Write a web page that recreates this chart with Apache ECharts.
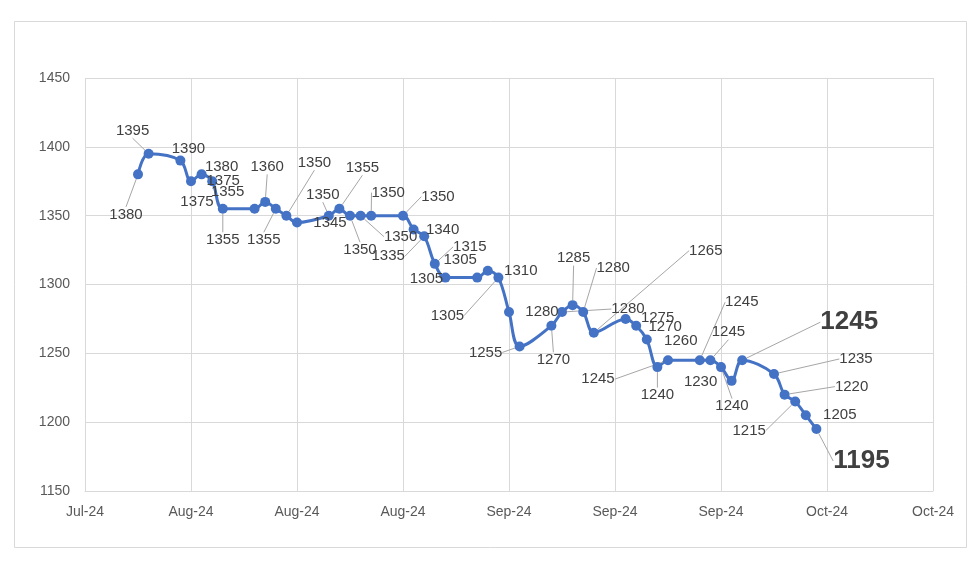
<!DOCTYPE html>
<html><head><meta charset="utf-8">
<script src="https://cdn.jsdelivr.net/npm/echarts/dist/echarts.min.js"></script>
<style>html,body{margin:0;padding:0;background:#fff}#c{width:980px;height:562px}</style>
</head><body><div id="c"></div>
<script>
// ---- data ----
const startDate = '2024-07-27';
const dates = [
  '2024-08-01','2024-08-02',
  '2024-08-05','2024-08-06','2024-08-07','2024-08-08','2024-08-09',
  '2024-08-12','2024-08-13','2024-08-14','2024-08-15','2024-08-16',
  '2024-08-19','2024-08-20','2024-08-21','2024-08-22','2024-08-23',
  '2024-08-26','2024-08-27','2024-08-28','2024-08-29','2024-08-30',
  '2024-09-02','2024-09-03','2024-09-04','2024-09-05','2024-09-06',
  '2024-09-09','2024-09-10','2024-09-11','2024-09-12','2024-09-13',
  '2024-09-16','2024-09-17','2024-09-18','2024-09-19','2024-09-20',
  '2024-09-23','2024-09-24','2024-09-25','2024-09-26','2024-09-27',
  '2024-09-30','2024-10-01','2024-10-02','2024-10-03','2024-10-04'
];
const prices = [
  1380, 1395,
  1390, 1375, 1380, 1375, 1355,
  1355, 1360, 1355, 1350, 1345,
  1350, 1355, 1350, 1350, 1350,
  1350, 1340, 1335, 1315, 1305,
  1305, 1310, 1305, 1280, 1255,
  1270, 1280, 1285, 1280, 1265,
  1275, 1270, 1260, 1240, 1245,
  1245, 1245, 1240, 1230, 1245,
  1235, 1220, 1215, 1205, 1195
];
const tickLabels = ['Jul-24','Aug-24','Aug-24','Aug-24','Sep-24','Sep-24','Sep-24','Oct-24','Oct-24'];

// ---- label placement (style) : [dx, dy, leaderLine] ----
const labelPlace = [
  [-12,40,1],[-16,-23,1],
  [8,-12,0],[6,21,0],[20,-8,0],[11,0,0],[0,31,1],
  [-27,-17,0],[2,-35,1],[-12,31,1],[28,-53,1],[33,0,0],
  [-6,-21,1],[23,-41,1],[10,34,1],[40,21,1],[17,-23,1],
  [35,-19,1],[29,0,0],[-36,20,1],[35,-17,1],[-19,1,0],
  [-17,-18,0],[33,0,0],[-51,38,1],[33,0,0],[-34,6,1],
  [2,34,1],[66,-3,1],[1,-47,1],[30,-44,1],[112,-82,1],
  [32,-1,0],[29,1,0],[34,1,0],[0,28,1],[-70,19,1],
  [42,-58,1],[18,-28,1],[11,39,1],[-31,1,0],[107,-38,1],
  [82,-15,1],[67,-8,1],[-46,29,1],[34,0,0],[45,32,1]
];
const bigLabels = [41, 46];

const DAY = 86400000;
const t0 = Date.parse(startDate + 'T00:00:00Z');
const items = dates.map((d, i) => {
  const day = Math.round((Date.parse(d + 'T00:00:00Z') - t0) / DAY);
  const it = { value: [day, prices[i]], labelLine: { show: !!labelPlace[i][2] } };
  if (bigLabels.indexOf(i) >= 0) it.label = { fontSize: 26, fontWeight: 'bold' };
  return it;
});

const chart = echarts.init(document.getElementById('c'), null, { renderer: 'canvas' });
chart.setOption({
  animation: false,
  backgroundColor: '#ffffff',
  graphic: [{
    type: 'rect', silent: true,
    shape: { x: 14.5, y: 21.5, width: 952, height: 526 },
    style: { fill: 'none', stroke: '#d9d9d9', lineWidth: 1 }
  }],
  grid: { left: 85, right: 47, top: 78, bottom: 71, containLabel: false },
  xAxis: {
    type: 'value', min: 0, max: 80, interval: 10,
    axisLine: { show: true, lineStyle: { color: '#d9d9d9', width: 1 } },
    axisTick: { show: false },
    splitLine: { show: true, lineStyle: { color: '#d9d9d9', width: 1 } },
    axisLabel: {
      margin: 14, color: '#595959', fontFamily: 'Liberation Sans', fontSize: 14,
      showMinLabel: true, showMaxLabel: true,
      formatter: v => tickLabels[Math.round(v / 10)] || ''
    }
  },
  yAxis: {
    type: 'value', min: 1150, max: 1450, interval: 50,
    axisLine: { show: false },
    axisTick: { show: false },
    splitLine: { show: true, lineStyle: { color: '#d9d9d9', width: 1 } },
    axisLabel: {
      margin: 15, color: '#595959', fontFamily: 'Liberation Sans', fontSize: 14,
      formatter: v => String(v)
    }
  },
  series: [{
    type: 'line',
    data: items,
    smooth: 0.35,
    symbol: 'circle',
    symbolSize: 10,
    lineStyle: { color: '#4472C4', width: 3 },
    itemStyle: { color: '#4472C4' },
    emphasis: { disabled: true },
    label: {
      show: true, position: 'inside',
      fontFamily: 'Liberation Sans', fontSize: 15, color: '#404040',
      textBorderWidth: 0,
      formatter: p => String(p.value[1])
    },
    labelLine: { show: false, lineStyle: { color: '#a6a6a6', width: 1 } },
    labelLayout: p => ({ dx: labelPlace[p.dataIndex][0], dy: labelPlace[p.dataIndex][1] })
  }]
});
</script>
</body></html>
